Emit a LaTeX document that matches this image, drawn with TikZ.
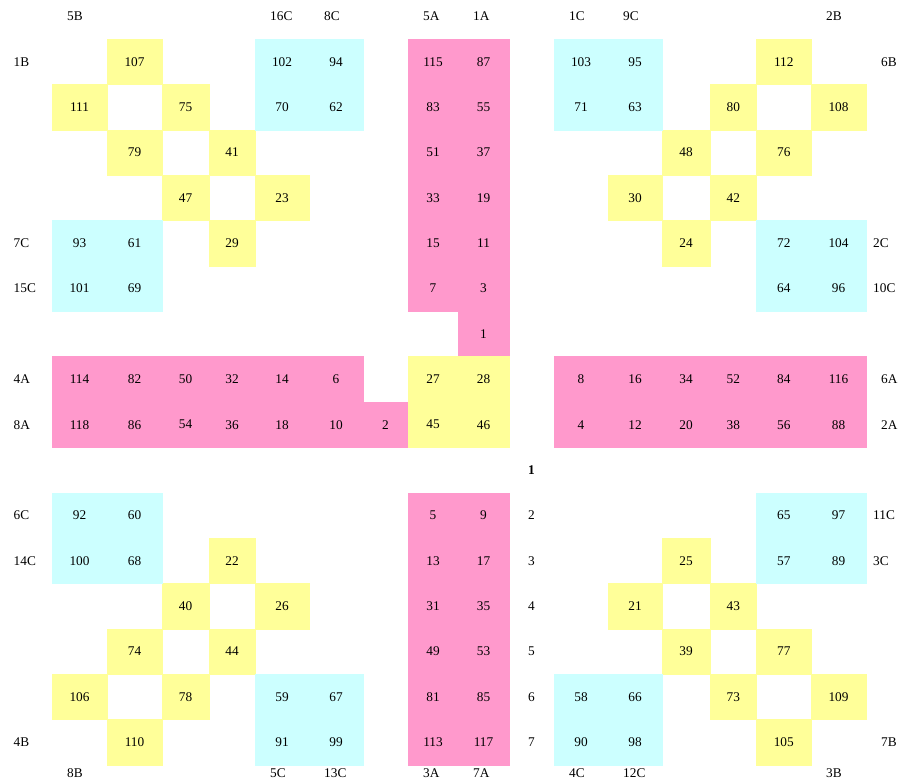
\documentclass[tikz,border=0pt]{standalone}
\usepackage{fontspec}
\setmainfont{Liberation Serif}
\definecolor{cellpink}{HTML}{FF99CC}
\definecolor{cellyellow}{HTML}{FFFF99}
\definecolor{cellcyan}{HTML}{CCFFFF}
\tikzset{
  cell/.style={inner sep=0pt, minimum height=45.375pt, line width=0.4pt},
  lbl/.style={inner sep=0pt, anchor=west}
}
\def\colx{{0,52,107,162,209,255,309,363,408,458,509,554,608,662,710,756.5,811,866,910}}
\begin{document}
\begin{tikzpicture}[x=1pt,y=-1pt,font=\fontsize{13.3}{16}\selectfont]
            \useasboundingbox (0,0) rectangle (910,783);

            \foreach \col/\cells in {
              cellpink/{8/1/115,9/1/87,8/2/83,9/2/55,8/3/51,9/3/37,8/4/33,9/4/19,8/5/15,9/5/11,8/6/7,9/6/3,9/7/1,
                1/8/114,2/8/82,3/8/50,4/8/32,5/8/14,6/8/6,11/8/8,12/8/16,13/8/34,14/8/52,15/8/84,16/8/116,
                1/9/118,2/9/86,3/9/54,4/9/36,5/9/18,6/9/10,7/9/2,11/9/4,12/9/12,13/9/20,14/9/38,15/9/56,16/9/88,
                8/11/5,9/11/9,8/12/13,9/12/17,8/13/31,9/13/35,8/14/49,9/14/53,8/15/81,9/15/85,8/16/113,9/16/117},
              cellyellow/{2/1/107,15/1/112,1/2/111,3/2/75,14/2/80,16/2/108,2/3/79,4/3/41,13/3/48,15/3/76,
                3/4/47,5/4/23,12/4/30,14/4/42,4/5/29,13/5/24,8/8/27,9/8/28,8/9/45,9/9/46,
                4/12/22,13/12/25,3/13/40,5/13/26,12/13/21,14/13/43,2/14/74,4/14/44,13/14/39,15/14/77,
                1/15/106,3/15/78,14/15/73,16/15/109,2/16/110,15/16/105},
              cellcyan/{5/1/102,6/1/94,11/1/103,12/1/95,5/2/70,6/2/62,11/2/71,12/2/63,
                1/5/93,2/5/61,15/5/72,16/5/104,1/6/101,2/6/69,15/6/64,16/6/96,
                1/11/92,2/11/60,15/11/65,16/11/97,1/12/100,2/12/68,15/12/57,16/12/89,
                5/15/59,6/15/67,11/15/58,12/15/66,5/16/91,6/16/99,11/16/90,12/16/98}} {
              \foreach \cx/\rx/\num in \cells {
                \pgfmathtruncatemacro\cn{\cx+1}
                \pgfmathsetmacro\xa{\colx[\cx]}
                \pgfmathsetmacro\xb{\colx[\cn]}
                \node[cell, fill=\col, draw=\col, minimum width={(\xb-\xa)*1pt}]
                  (n\num) at ({(\xa+\xb)/2},{39+(\rx-0.5)*45.375}) {\num};
              }
            }

            \foreach \cx/\t in {1/5B,5/16C,6/8C,8/5A,9/1A,11/1C,12/9C,16/2B} {
              \pgfmathsetmacro\xa{\colx[\cx]}
              \node[lbl] (top\t) at (\xa+15,16.4) {\t};
            }
            \foreach \cx/\t in {1/8B,5/5C,6/13C,8/3A,9/7A,11/4C,12/12C,16/3B} {
              \pgfmathsetmacro\xa{\colx[\cx]}
              \node[lbl] (bot\t) at (\xa+15,773) {\t};
            }
            \foreach \rx/\t in {1/1B,5/7C,6/15C,8/4A,9/8A,11/6C,12/14C,16/4B}
              \node[lbl] (left\t) at (13.5,{39+(\rx-0.5)*45.375}) {\t};
            \foreach \rx/\t in {5/2C,6/10C,11/11C,12/3C}
              \node[lbl] (right\t) at (873,{39+(\rx-0.5)*45.375}) {\t};
            \foreach \rx/\t in {1/6B,8/6A,9/2A,16/7B}
              \node[lbl] (right\t) at (881,{39+(\rx-0.5)*45.375}) {\t};

            \node (mid1) at (531.5,{39+9.5*45.375}) {\textbf{1}};
            \foreach \rx in {2,...,7}
              \node (mid\rx) at (531.5,{39+(\rx+8.5)*45.375}) {\rx};
        \end{tikzpicture}
\end{document}
